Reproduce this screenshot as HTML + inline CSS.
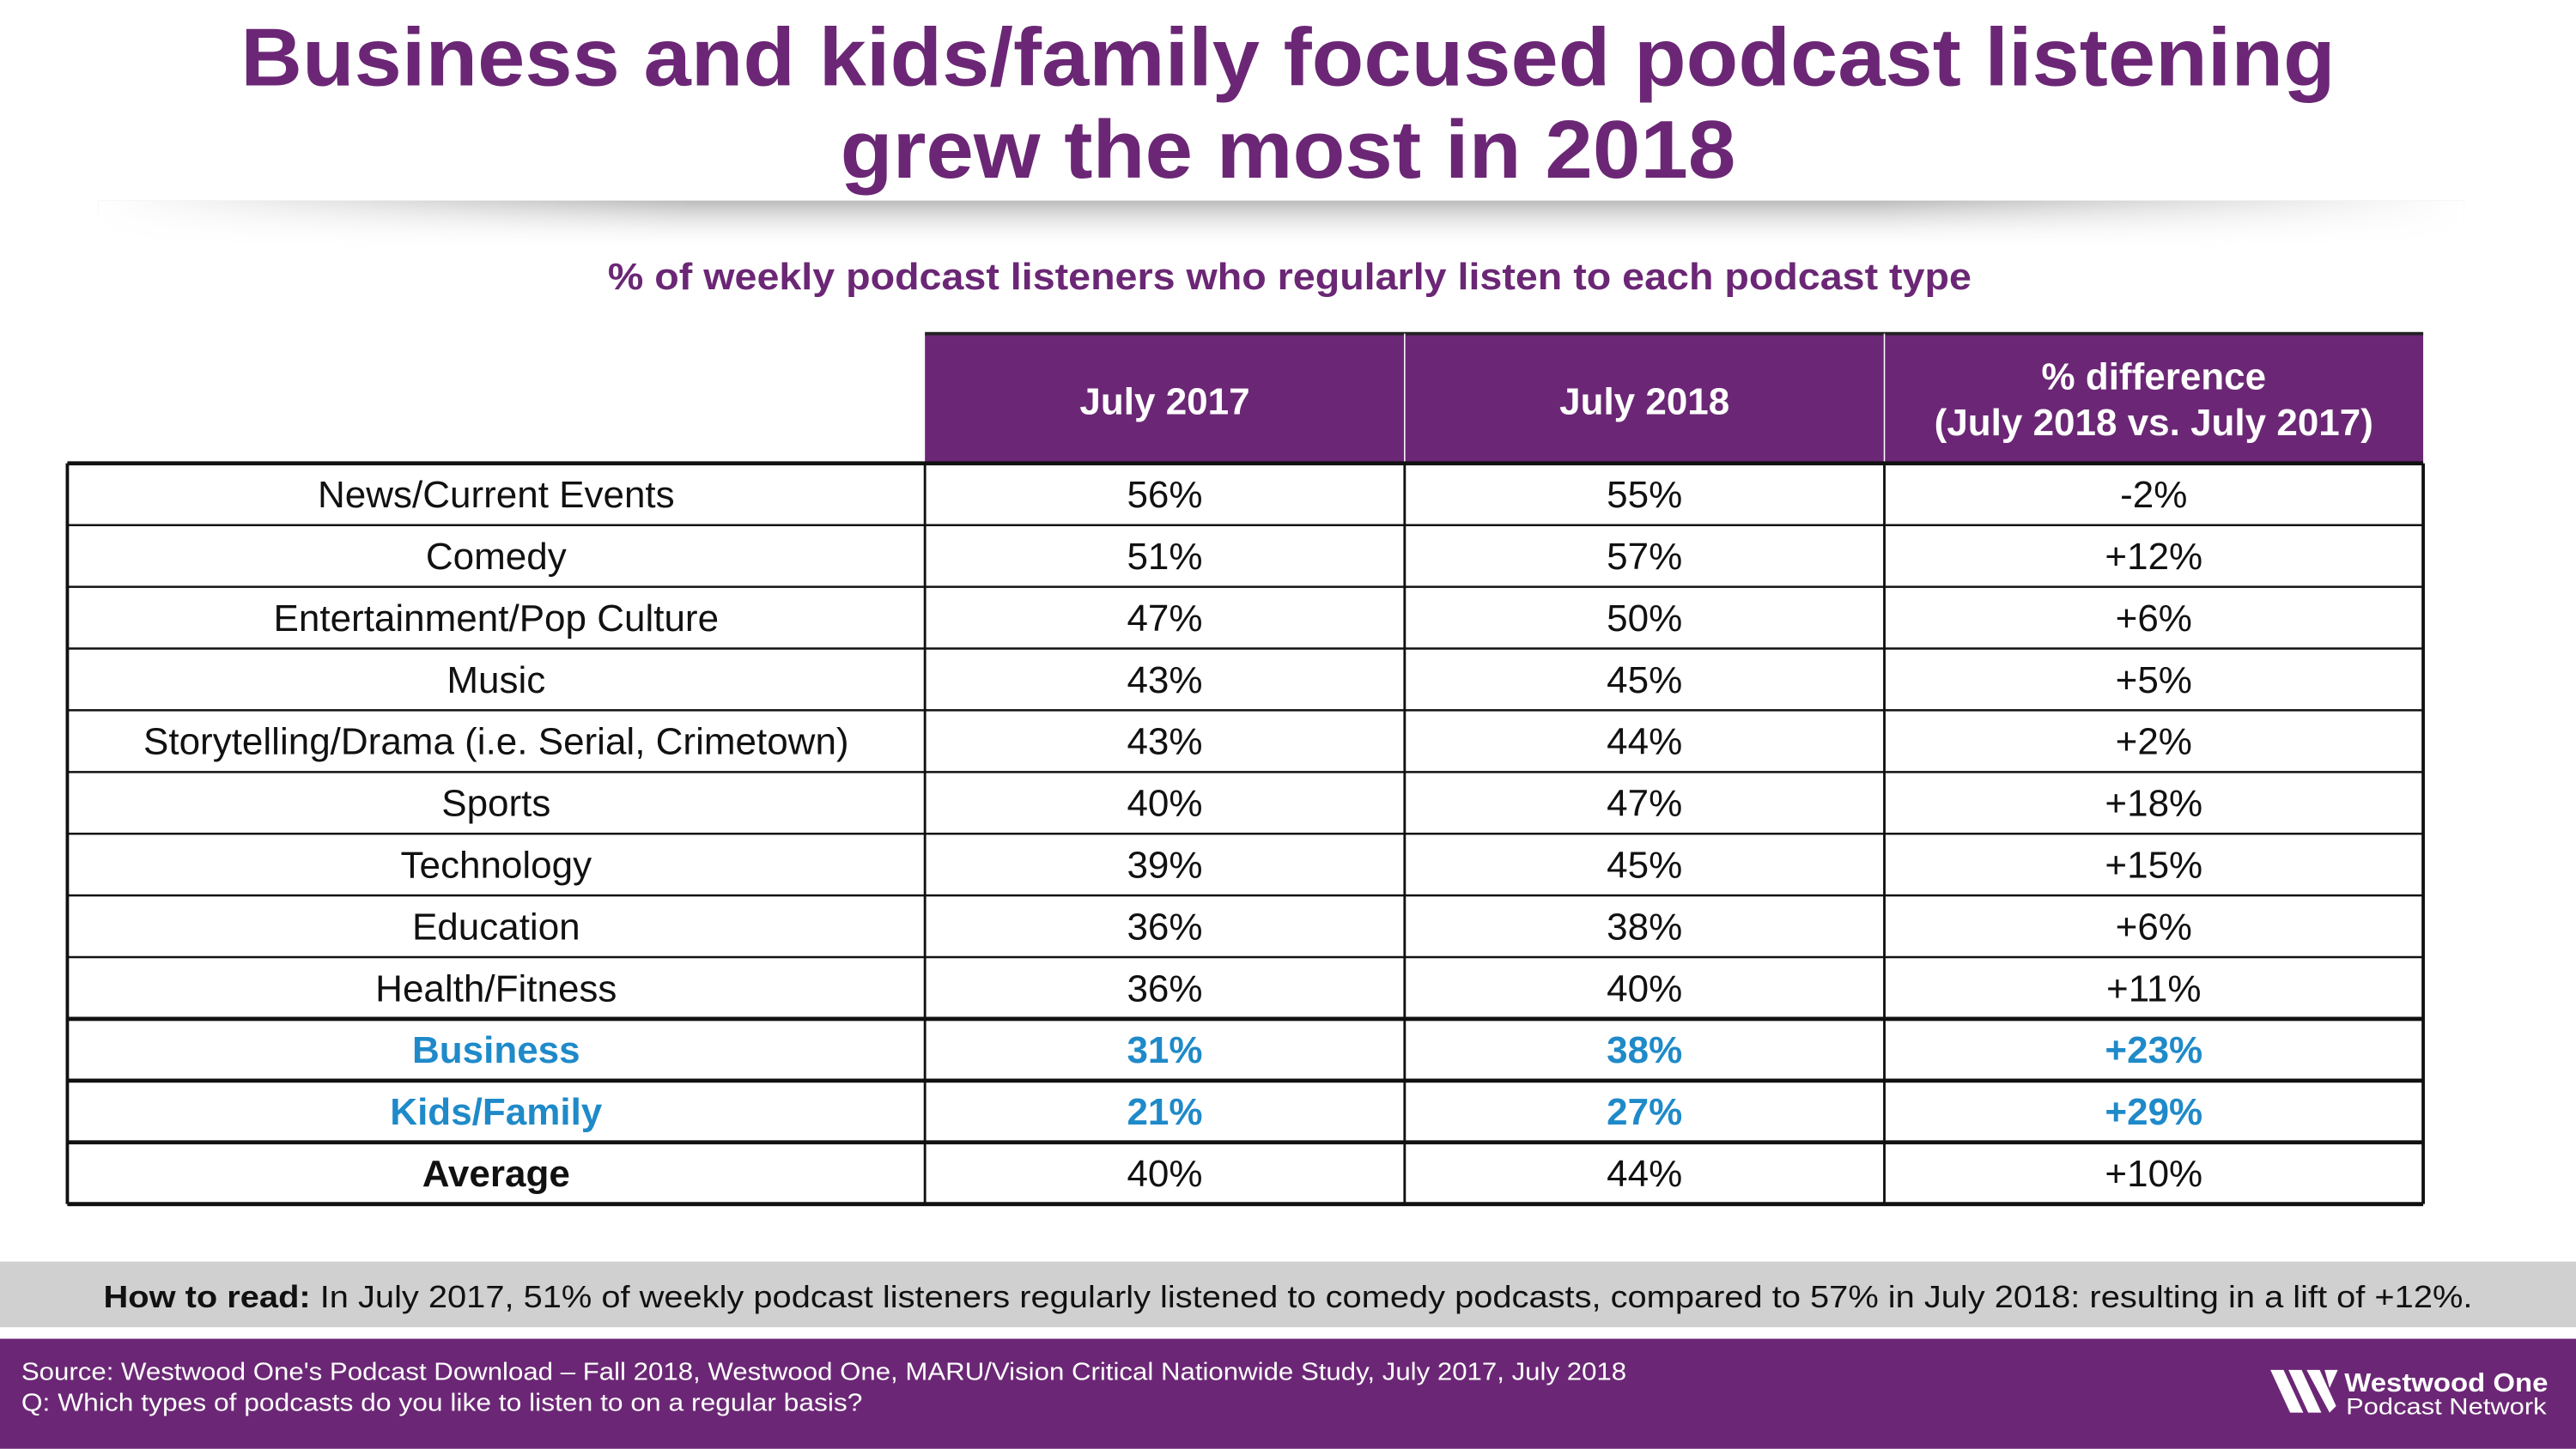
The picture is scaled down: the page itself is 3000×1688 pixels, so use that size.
<!DOCTYPE html>
<html><head><meta charset="utf-8"><style>
html,body{margin:0;padding:0;background:#fff;}
svg{display:block;font-family:"Liberation Sans",sans-serif;}
</style></head><body>
<svg id="chart" width="3000" height="1688" viewBox="0 0 1568 882" xmlns="http://www.w3.org/2000/svg">
<defs>
<radialGradient id="sh" cx="0.5" cy="0" r="0.5" gradientTransform="translate(0,0) scale(1,0.08)">
<stop offset="0" stop-color="#aaa"/><stop offset="1" stop-color="#fff" stop-opacity="0"/>
</radialGradient>
<linearGradient id="shv" x1="0" y1="0" x2="0" y2="1"><stop offset="0" stop-color="#bbb"/><stop offset="1" stop-color="#fff" stop-opacity="0"/></linearGradient>
<linearGradient id="shh" x1="0" y1="0" x2="1" y2="0"><stop offset="0" stop-color="#fff"/><stop offset="0.25" stop-color="#fff" stop-opacity="0"/><stop offset="0.75" stop-color="#fff" stop-opacity="0"/><stop offset="1" stop-color="#fff"/></linearGradient>
</defs>
<g fill="#6b2775" font-weight="bold" text-anchor="middle" font-size="50">
<text x="784" y="52" textLength="1275" lengthAdjust="spacingAndGlyphs">Business and kids/family focused podcast listening</text>
<text x="784" y="108" textLength="545" lengthAdjust="spacingAndGlyphs">grew the most in 2018</text>
</g>
<g>
<rect x="60" y="122" width="1440" height="30" fill="url(#shv)"/>
<rect x="60" y="122" width="1440" height="30" fill="url(#shh)"/>
</g>
<text x="785" y="176" fill="#6b2775" font-weight="bold" font-size="23" text-anchor="middle" textLength="830" lengthAdjust="spacingAndGlyphs">% of weekly podcast listeners who regularly listen to each podcast type</text>
<g id="table"></g>
<rect x="0" y="768" width="1568" height="40" fill="#d0d0d0"/>
<text x="784" y="796" font-size="19" text-anchor="middle" fill="#111" textLength="1442" lengthAdjust="spacingAndGlyphs"><tspan font-weight="bold">How to read:</tspan> In July 2017, 51% of weekly podcast listeners regularly listened to comedy podcasts, compared to 57% in July 2018: resulting in a lift of +12%.</text>
<rect x="0" y="815" width="1568" height="67" fill="#6b2775"/>
<g fill="#fff" font-size="15">
<text x="13" y="840" textLength="977" lengthAdjust="spacingAndGlyphs">Source: Westwood One's Podcast Download – Fall 2018, Westwood One, MARU/Vision Critical Nationwide Study, July 2017, July 2018</text>
<text x="13" y="859" textLength="512" lengthAdjust="spacingAndGlyphs">Q: Which types of podcasts do you like to listen to on a regular basis?</text>
</g>
<g fill="#fff">
<path d="M1382 834 h8 l12 26 h-8z M1393 834 h8 l12 26 h-8z M1404 834 h8 l10 22 l-4 4z M1415 834 h8 l-5 11z"/>
<text x="1427" y="847" font-size="16" font-weight="bold" textLength="124" lengthAdjust="spacingAndGlyphs">Westwood One</text>
<text x="1428" y="861" font-size="14" textLength="122" lengthAdjust="spacingAndGlyphs">Podcast Network</text>
</g>
</svg>
<script>
const categories=["News/Current Events","Comedy","Entertainment/Pop Culture","Music","Storytelling/Drama (i.e. Serial, Crimetown)","Sports","Technology","Education","Health/Fitness","Business","Kids/Family","Average"];
const july2017=["56%","51%","47%","43%","43%","40%","39%","36%","36%","31%","21%","40%"];
const july2018=["55%","57%","50%","45%","44%","47%","45%","38%","40%","38%","27%","44%"];
const diffs=["-2%","+12%","+6%","+5%","+2%","+18%","+15%","+6%","+11%","+23%","+29%","+10%"];
const headers=["July 2017","July 2018","% difference|(July 2018 vs. July 2017)"];
const NS="http://www.w3.org/2000/svg";
const g=document.getElementById('table');
function mk(t,a,p){const e=document.createElementNS(NS,t);for(const k in a)e.setAttribute(k,a[k]);(p||g).appendChild(e);return e;}
const xs=[41,563,855,1147,1475];
const top0=203,hdrB=282,rowH=(733-282)/categories.length;
const hb=mk('rect',{x:563,y:top0,width:912,height:hdrB-top0,fill:'#6b2775'});


mk('line',{x1:563,y1:top0,x2:1475,y2:top0,stroke:'#222','stroke-width':2});
[855,1147].forEach(x=>mk('line',{x1:x,y1:top0,x2:x,y2:hdrB,stroke:'#fff','stroke-width':0.8}));
headers.forEach((h,i)=>{
  const cx=(xs[i+1]+xs[i+2])/2;const parts=h.split('|');
  parts.forEach((p,j)=>{
    const y=parts.length===1?252:237+j*28;
    const t=mk('text',{x:cx,y:y,fill:'#fff','font-size':23,'font-weight':'bold','text-anchor':'middle'});
    t.textContent=p;
    
    
  });
});
categories.forEach((c,i)=>{
  const y=hdrB+i*rowH;
  const hl=(c==="Business"||c==="Kids/Family");
  const isAvg=c==="Average";
  const col=hl?'#1f8ac9':'#111';
  const fw=(hl||isAvg)?'bold':'normal';
  const vals=[c,july2017[i],july2018[i],diffs[i]];
  vals.forEach((v,j)=>{
    const t=mk('text',{x:(xs[j]+xs[j+1])/2,y:y+rowH/2+8,fill:isAvg&&j>0?'#111':col,'font-size':23,'font-weight':isAvg&&j>0?'normal':fw,'text-anchor':'middle'});
    t.textContent=v;
    
    
  });
});
for(let i=0;i<=categories.length;i++){
  const y=hdrB+i*rowH;
  const w=(i===0||i===9||i===10||i===11||i===categories.length)?2.5:1.3;
  mk('line',{x1:41,y1:y,x2:1475,y2:y,stroke:'#111','stroke-width':w});
}
xs.forEach((x,k)=>mk('line',{x1:x,y1:hdrB,x2:x,y2:733,stroke:'#111','stroke-width':(k===0||k===4)?2:1.5}));
</script>
</body></html>
